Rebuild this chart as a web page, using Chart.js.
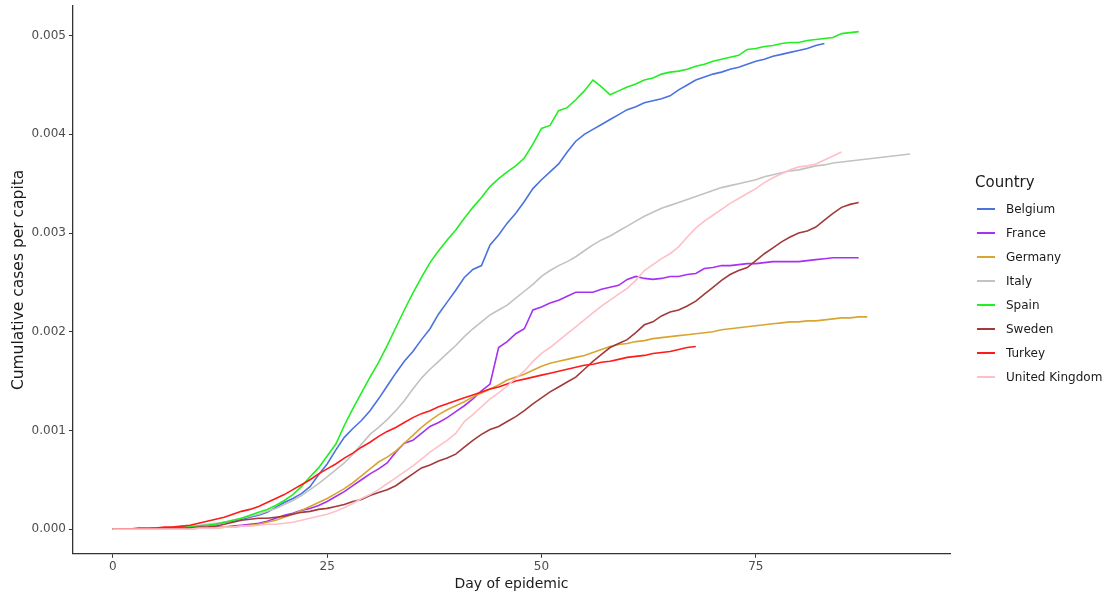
<!DOCTYPE html>
<html lang="en">
  <head>
    <meta charset="UTF-8" />
    <title>Cumulative cases per capita</title>
    <script src="https://cdn.jsdelivr.net/npm/chart.js"></script>
    <style>
      * {
        margin: 0;
        padding: 0;
        box-sizing: border-box;
      }

      body {
        width: 1110px;
        height: 599px;
        background: #ffffff;
        font-family: "DejaVu Sans", sans-serif;
        overflow: hidden;
      }

      .wrap {
        position: relative;
        width: 1110px;
        height: 599px;
      }

      #legend {
        position: absolute;
        left: 975px;
        top: 171px;
        color: #1a1a1a;
      }

      #legend h4 {
        font-weight: normal;
        font-size: 15px;
        line-height: 22px;
        margin-bottom: 4px;
      }

      .item {
        display: flex;
        align-items: center;
        height: 24px;
        font-size: 12px;
      }

      .item span.key {
        display: inline-block;
        width: 18px;
        height: 2px;
        margin-left: 2px;
        margin-right: 11px;
      }
    </style>
  </head>
  <body>
    <div class="wrap">
      <canvas id="myChart" width="1110" height="599"></canvas>
      <div id="legend"></div>
    </div>
    <script>
      // values are cases per 1000 people, one per day of epidemic (day 0 first)
      const countries = ["Belgium", "France", "Germany", "Italy", "Spain", "Sweden", "Turkey", "United Kingdom"];
      const colores = ["#4a72e0", "#a531f2", "#d9a531", "#c2c2c2", "#22ee22", "#a33a3a", "#ff1a1a", "#ffbfc8"];
      const xTicks = [0, 25, 50, 75];
      const yTicks = [0, 1, 2, 3, 4, 5];

      const belgium = [0, 0, 0, 0, 0, 0.01, 0.01, 0.01, 0.02, 0.02, 0.03,
        0.04, 0.05, 0.07, 0.08, 0.1, 0.12, 0.14, 0.17, 0.22, 0.27,
        0.31, 0.36, 0.43, 0.55, 0.66, 0.8, 0.93, 1.02, 1.1, 1.2,
        1.32, 1.45, 1.58, 1.7, 1.8, 1.92, 2.03, 2.18, 2.3, 2.42,
        2.55, 2.63, 2.67, 2.88, 2.98, 3.1, 3.2, 3.32, 3.45, 3.54,
        3.62, 3.7, 3.82, 3.93, 4.0, 4.05, 4.1, 4.15, 4.2, 4.25,
        4.28, 4.32, 4.34, 4.36, 4.39, 4.45, 4.5, 4.55, 4.58, 4.61,
        4.63, 4.66, 4.68, 4.71, 4.74, 4.76, 4.79, 4.81, 4.83, 4.85,
        4.87, 4.9, 4.92];
      const france = [0, 0, 0, 0, 0, 0, 0, 0, 0, 0.01, 0.01,
        0.01, 0.02, 0.02, 0.03, 0.04, 0.05, 0.06, 0.08, 0.11, 0.14,
        0.16, 0.19, 0.21, 0.24, 0.28, 0.33, 0.38, 0.44, 0.5, 0.56,
        0.61, 0.67, 0.78, 0.87, 0.9, 0.97, 1.04, 1.08, 1.13, 1.19,
        1.25, 1.32, 1.4, 1.47, 1.84, 1.9, 1.98, 2.03, 2.22, 2.25,
        2.29, 2.32, 2.36, 2.4, 2.4, 2.4, 2.43, 2.45, 2.47, 2.53,
        2.56, 2.54, 2.53, 2.54, 2.56, 2.56, 2.58, 2.59, 2.64, 2.65,
        2.67, 2.67, 2.68, 2.69, 2.69, 2.7, 2.71, 2.71, 2.71, 2.71,
        2.72, 2.73, 2.74, 2.75, 2.75, 2.75, 2.75];
      const germany = [0, 0, 0, 0, 0, 0, 0, 0, 0, 0, 0.01,
        0.01, 0.01, 0.02, 0.02, 0.03, 0.04, 0.05, 0.07, 0.09, 0.12,
        0.15, 0.19, 0.23, 0.27, 0.31, 0.36, 0.41, 0.47, 0.54, 0.61,
        0.68, 0.73, 0.79, 0.87, 0.95, 1.03, 1.1, 1.16, 1.21, 1.25,
        1.29, 1.34, 1.38, 1.42, 1.46, 1.51, 1.54, 1.57, 1.61, 1.65,
        1.68, 1.7, 1.72, 1.74, 1.76, 1.79, 1.82, 1.85, 1.87, 1.88,
        1.9, 1.91, 1.93, 1.94, 1.95, 1.96, 1.97, 1.98, 1.99, 2.0,
        2.02, 2.03, 2.04, 2.05, 2.06, 2.07, 2.08, 2.09, 2.1, 2.1,
        2.11, 2.11, 2.12, 2.13, 2.14, 2.14, 2.15, 2.15];
      const italy = [0, 0, 0, 0, 0, 0.01, 0.01, 0.02, 0.02, 0.03, 0.04,
        0.05, 0.06, 0.07, 0.09, 0.11, 0.13, 0.15, 0.18, 0.21, 0.25,
        0.29, 0.34, 0.4, 0.46, 0.53, 0.6, 0.67, 0.76, 0.86, 0.96,
        1.03, 1.11, 1.2, 1.3, 1.42, 1.53, 1.62, 1.7, 1.78, 1.86,
        1.95, 2.03, 2.1, 2.17, 2.22, 2.27, 2.34, 2.41, 2.48, 2.56,
        2.62, 2.67, 2.71, 2.76, 2.82, 2.88, 2.93, 2.97, 3.02, 3.07,
        3.12, 3.17, 3.21, 3.25, 3.28, 3.31, 3.34, 3.37, 3.4, 3.43,
        3.46, 3.48, 3.5, 3.52, 3.54, 3.57, 3.59, 3.61, 3.63, 3.64,
        3.66, 3.68, 3.69, 3.71, 3.72, 3.73, 3.74, 3.75, 3.76, 3.77,
        3.78, 3.79, 3.8];
      const spain = [0, 0, 0, 0, 0, 0.01, 0.01, 0.01, 0.02, 0.02, 0.03,
        0.04, 0.05, 0.07, 0.09, 0.11, 0.14, 0.17, 0.2, 0.24, 0.29,
        0.35, 0.43, 0.53, 0.62, 0.74, 0.86, 1.05, 1.22, 1.38, 1.54,
        1.69, 1.86, 2.04, 2.22, 2.39, 2.55, 2.7, 2.82, 2.93, 3.03,
        3.15, 3.26, 3.36, 3.47, 3.55, 3.62, 3.68, 3.76, 3.9, 4.06,
        4.09, 4.24, 4.27, 4.35, 4.44, 4.55, 4.48, 4.4, 4.44, 4.48,
        4.51, 4.55, 4.57, 4.61, 4.63, 4.64, 4.66, 4.69, 4.71, 4.74,
        4.76, 4.78, 4.8, 4.86, 4.87, 4.89, 4.9, 4.92, 4.93, 4.93,
        4.95, 4.96, 4.97, 4.98, 5.02, 5.03, 5.04];
      const sweden = [0, 0, 0, 0, 0, 0, 0, 0.01, 0.01, 0.01, 0.02,
        0.02, 0.03, 0.05, 0.07, 0.09, 0.1, 0.11, 0.11, 0.12, 0.13,
        0.15, 0.17, 0.18, 0.2, 0.21, 0.23, 0.25, 0.28, 0.3, 0.34,
        0.37, 0.4, 0.44, 0.5, 0.56, 0.62, 0.65, 0.69, 0.72, 0.76,
        0.83, 0.9, 0.96, 1.01, 1.04, 1.09, 1.14, 1.2, 1.27, 1.33,
        1.39, 1.44, 1.49, 1.54, 1.62, 1.7, 1.77, 1.84, 1.88, 1.92,
        1.99, 2.07, 2.1, 2.16, 2.2, 2.22, 2.26, 2.31, 2.38, 2.45,
        2.52, 2.58, 2.62, 2.65, 2.72, 2.79, 2.85, 2.91, 2.96, 3.0,
        3.02, 3.06, 3.13, 3.2, 3.26, 3.29, 3.31];
      const turkey = [0, 0, 0, 0.01, 0.01, 0.01, 0.02, 0.02, 0.03, 0.04, 0.06,
        0.08, 0.1, 0.12, 0.15, 0.18, 0.2, 0.23, 0.27, 0.31, 0.35,
        0.4, 0.45, 0.5, 0.56, 0.61, 0.66, 0.72, 0.77, 0.83, 0.88,
        0.94, 0.99, 1.03, 1.08, 1.13, 1.17, 1.2, 1.24, 1.27, 1.3,
        1.33, 1.36, 1.39, 1.42, 1.44, 1.47, 1.5, 1.52, 1.54, 1.56,
        1.58, 1.6, 1.62, 1.64, 1.66, 1.67, 1.69, 1.7, 1.72, 1.74,
        1.75, 1.76, 1.78, 1.79, 1.8, 1.82, 1.84, 1.85];
      const uk = [0, 0, 0, 0, 0, 0, 0, 0, 0, 0, 0.01,
        0.01, 0.01, 0.02, 0.02, 0.03, 0.03, 0.04, 0.05, 0.05, 0.06,
        0.07, 0.09, 0.11, 0.13, 0.15, 0.18, 0.22, 0.26, 0.31, 0.35,
        0.4, 0.46, 0.52, 0.58, 0.64, 0.71, 0.78, 0.84, 0.9, 0.97,
        1.09, 1.16, 1.24, 1.32, 1.38, 1.45, 1.53, 1.6, 1.7, 1.78,
        1.84, 1.91, 1.98, 2.05, 2.12, 2.19, 2.26, 2.32, 2.38, 2.44,
        2.52, 2.62, 2.68, 2.74, 2.79, 2.86, 2.96, 3.05, 3.12, 3.18,
        3.24, 3.3, 3.35, 3.4, 3.45, 3.51, 3.56, 3.6, 3.64, 3.67,
        3.68, 3.7, 3.74, 3.78, 3.82];

      const series = [belgium, france, germany, italy, spain, sweden, turkey, uk];

      const datasets = series.map(function (vals, i) {
        return {
          label: countries[i],
          data: vals.map((v, dia) => ({ x: dia, y: v })),
          borderColor: colores[i],
          backgroundColor: colores[i],
          borderWidth: 1.6,
          pointRadius: 0,
          tension: 0,
          order: series.length - i, // later countries on top, like ggplot
        };
      });

      const tickFont = { family: "DejaVu Sans", size: 12 };

      var ctx = document.getElementById("myChart").getContext("2d");
      var miGrafico = new Chart(ctx, {
        type: "line",
        data: { datasets: datasets },
        options: {
          responsive: false,
          animation: false,
          layout: { padding: { top: 6, right: 160, bottom: 4, left: 10 } },
          plugins: {
            legend: { display: false },
            tooltip: { enabled: false },
          },
          scales: {
            x: {
              type: "linear",
              min: -4.65,
              max: 97.65,
              afterBuildTicks: (axis) => {
                axis.ticks = xTicks.map((v) => ({ value: v }));
              },
              grid: { display: true, drawOnChartArea: false, drawTicks: true, tickLength: 4, color: "#333333" },
              border: { display: true, color: "#333333", width: 1.3 },
              ticks: { color: "#4d4d4d", font: tickFont, padding: 2, maxRotation: 0 },
              title: { display: true, text: "Day of epidemic", color: "#1a1a1a", font: { family: "DejaVu Sans", size: 14 }, padding: { top: 0, bottom: 2 } },
            },
            y: {
              min: -0.25,
              max: 5.3,
              afterBuildTicks: (axis) => {
                axis.ticks = yTicks.map((v) => ({ value: v }));
              },
              afterFit: (axis) => {
                // no extra room for the top label, the plot starts right at the padding
                axis.paddingTop = 0;
              },
              grid: { display: true, drawOnChartArea: false, drawTicks: true, tickLength: 4, color: "#333333" },
              border: { display: true, color: "#333333", width: 1.3 },
              ticks: {
                color: "#4d4d4d",
                font: tickFont,
                padding: 3,
                callback: (v) => (v / 1000).toFixed(3),
              },
              title: { display: true, text: "Cumulative cases per capita", color: "#1a1a1a", font: { family: "DejaVu Sans", size: 15.5 }, padding: { top: 0, bottom: 0 } },
            },
          },
        },
      });

      // leyenda a la derecha
      const leyenda = document.getElementById("legend");
      let html = "<h4>Country</h4>";
      countries.forEach(function (c, i) {
        html += '<div class="item"><span class="key" style="background:' + colores[i] + '"></span>' + c + "</div>";
      });
      leyenda.innerHTML = html;
    </script>
  </body>
</html>
